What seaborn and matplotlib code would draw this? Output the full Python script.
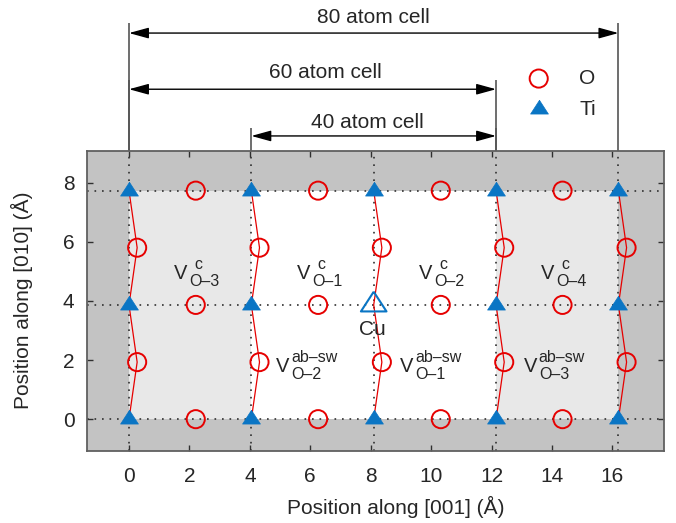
import numpy as np
import pandas as pd
import matplotlib
matplotlib.use('Agg')
import matplotlib.pyplot as plt
from matplotlib.patches import Rectangle
import seaborn as sns

# Ti sites (Å); the middle site of the 3rd column is the Cu dopant
ti_x = [0.0, 0.0, 0.0, 4.05, 4.05, 4.05, 8.1, 8.1,
        12.15, 12.15, 12.15, 16.2, 16.2, 16.2]
ti_y = [0.0, 3.865, 7.73, 0.0, 3.865, 7.73, 0.0, 7.73,
        0.0, 3.865, 7.73, 0.0, 3.865, 7.73]
cu_x = [8.1]
cu_y = [3.865]

# O sites: chain oxygens next to the Ti columns, then the in-between oxygens
o_x = [0.27, 0.27, 4.32, 4.32, 8.37, 8.37, 12.42, 12.42, 16.47, 16.47,
       2.21, 2.21, 2.21, 6.26, 6.26, 6.26, 10.32, 10.32, 10.32, 14.35, 14.35, 14.35]
o_y = [1.93, 5.8, 1.93, 5.8, 1.93, 5.8, 1.93, 5.8, 1.93, 5.8,
       0.0, 3.865, 7.73, 0.0, 3.865, 7.73, 0.0, 3.865, 7.73, 0.0, 3.865, 7.73]

# zig-zag Ti-O chains (one per column)
chain_x = [0.0, 0.27, 0.0, 0.27, 0.0,
           4.05, 4.32, 4.05, 4.32, 4.05,
           8.1, 8.37, 8.1, 8.37, 8.1,
           12.15, 12.42, 12.15, 12.42, 12.15,
           16.2, 16.47, 16.2, 16.47, 16.2]
chain_y = [0.0, 1.93, 3.865, 5.8, 7.73] * 5
chain_id = np.repeat([0, 1, 2, 3, 4], 5)

# dotted guide lines through the atom rows / columns
row_lines = [0.0, 3.865, 7.73]
col_lines = [0.0, 4.05, 8.1, 12.15, 16.2]

# shaded zones inside the 80 atom cell
zone_x0 = [0.0, 4.05, 12.15]
zone_x1 = [4.05, 12.15, 16.2]
zone_y0, zone_y1 = 0.0, 7.73
zone_col = ['#e8e8e8', '#ffffff', '#e8e8e8']

# supercells
cell_labels = ['80 atom cell', '60 atom cell', '40 atom cell']
cell_x0 = [0.0, 0.0, 4.05]
cell_x1 = [16.2, 12.15, 12.15]
cell_text_x = [8.1, 6.5, 7.9]

# vacancy labels (V with sub/superscripts)
vc_sub = ['O–3', 'O–1', 'O–2', 'O–4']
vc_x = [1.49, 5.57, 9.61, 13.64]
vc_y = 4.74
vab_sub = ['O–2', 'O–1', 'O–3']
vab_x = [4.87, 8.97, 13.06]
vab_y = 1.59

RED = '#e60000'
BLUE = '#0a75c4'
FS = 15

sns.set_style('ticks')
plt.rcParams['font.family'] = ['Liberation Sans', 'DejaVu Sans']

fig = plt.figure(figsize=(6.76, 5.23), dpi=100)
ax = fig.add_axes([0.1287, 0.1386, 0.8536, 0.5732])
ax.set_facecolor('#c3c3c3')
ax.set_xlim(-1.39, 17.71)
ax.set_ylim(-1.06, 9.08)

for x0, x1, c in zip(zone_x0, zone_x1, zone_col):
    ax.add_patch(Rectangle((x0, zone_y0), x1 - x0, zone_y1 - zone_y0,
                           facecolor=c, edgecolor='none', zorder=0.5))

dot = (0, (1, 3.5))
for y in row_lines:
    ax.axhline(y, color='#303030', lw=1.2, ls=dot, zorder=1)
for x in col_lines:
    ax.axvline(x, color='#303030', lw=1.2, ls=dot, zorder=1)

chains = pd.DataFrame({'x': chain_x, 'y': chain_y, 'col': chain_id})
sns.lineplot(data=chains, x='x', y='y', units='col', estimator=None, sort=False,
             color=RED, lw=0.9, ax=ax, zorder=2, legend=False)

tri = [(0.0, 1.03), (-1.0, -0.51), (1.0, -0.51), (0.0, 1.03)]
o_df = pd.DataFrame({'x': o_x, 'y': o_y})
ti_df = pd.DataFrame({'x': ti_x, 'y': ti_y})
cu_df = pd.DataFrame({'x': cu_x, 'y': cu_y})
sns.scatterplot(data=o_df, x='x', y='y', marker='o', s=170, facecolors='none',
                edgecolor=RED, linewidth=1.4, ax=ax, zorder=3, label='O')
sns.scatterplot(data=ti_df, x='x', y='y', marker=tri, s=175, color=BLUE,
                edgecolor=BLUE, linewidth=0.5, ax=ax, zorder=3, label='Ti')
sns.scatterplot(data=cu_df, x='x', y='y', marker=tri, s=360, facecolors='none',
                edgecolor=BLUE, linewidth=1.5, ax=ax, zorder=3)

# V labels: main letter 14.5 pt, scripts 11.5 pt
def vlabel(x, y, sub, sup, sup_dx):
    ax.text(x, y, 'V', ha='left', va='baseline', fontsize=14.5, zorder=4)
    ax.annotate(sub, xy=(x, y), xytext=(11, -5), textcoords='offset points',
                ha='left', va='baseline', fontsize=11.5, zorder=4)
    ax.annotate(sup, xy=(x, y), xytext=(sup_dx, 7.5), textcoords='offset points',
                ha='left', va='baseline', fontsize=11.5, zorder=4)

for x, sub in zip(vc_x, vc_sub):
    vlabel(x, vc_y, sub, 'c', 14.6)
for x, sub in zip(vab_x, vab_sub):
    vlabel(x, vab_y, sub, 'ab–sw', 10.9)
ax.text(8.06, 2.84, 'Cu', ha='center', va='baseline', fontsize=FS, zorder=4)

# supercell dimension arrows above the plot
ytop = ax.get_ylim()[1]
arrow_y = [13.06, 11.16, 9.58]
line_top = [13.4, 11.48, 9.85]
text_y = [13.6, 11.72, 10.05]
for lab, x0, x1, tx, ay, lt, ty in zip(cell_labels, cell_x0, cell_x1, cell_text_x,
                                       arrow_y, line_top, text_y):
    ax.vlines([x0, x1], lt, ytop, color='#555555', lw=1.2, clip_on=False)
    ax.annotate('', xy=(x1, ay), xytext=(x0, ay), annotation_clip=False,
                arrowprops=dict(arrowstyle='<|-|>,head_length=0.8,head_width=0.22',
                                mutation_scale=15, color='black', lw=1,
                                shrinkA=0, shrinkB=0))
    ax.text(tx, ty, lab, ha='center', va='center', fontsize=FS)

ax.legend(loc='upper left', bbox_to_anchor=(0.7815, 0.868), bbox_transform=fig.transFigure,
          frameon=False, fontsize=FS, handlelength=1.0, handletextpad=1.44,
          labelspacing=0.57, borderpad=0, borderaxespad=0)

ax.set_xticks(np.arange(0, 17, 2))
ax.set_yticks(np.arange(0, 9, 2))
ax.tick_params(direction='in', top=True, right=True, length=4, width=1,
               labelsize=FS, color='#303030')
ax.tick_params(axis='x', pad=12)
ax.tick_params(axis='y', pad=9)
for sp in ax.spines.values():
    sp.set_color('#606060')
    sp.set_linewidth(1.3)

ax.set_xlabel('Position along [001] (Å)', fontsize=FS)
ax.set_ylabel('Position along [010] (Å)', fontsize=FS)
ax.xaxis.set_label_coords(0.535, -0.150)
ax.yaxis.set_label_coords(-0.0936, 0.502)

fig.savefig('out.png', dpi=100)
